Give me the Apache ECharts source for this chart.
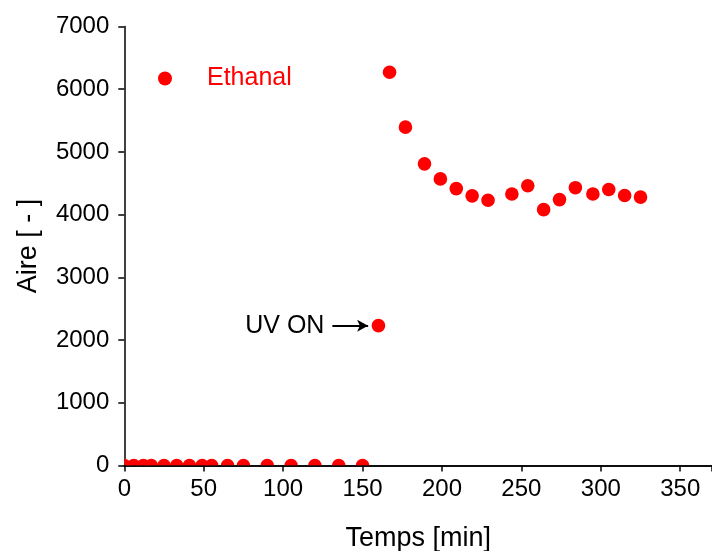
<!DOCTYPE html>
<html>
<head>
<meta charset="utf-8">
<script src="https://cdn.jsdelivr.net/npm/echarts@6/dist/echarts.min.js"></script>
<style>
html,body{margin:0;padding:0;background:#fff;}
#chart{width:712px;height:551px;}
</style>
</head>
<body>
<div id="chart"></div>
<script>
// Data
const seriesName = 'Ethanal';
const timeMin = [0, 6, 12, 17, 25, 33, 41, 49, 55, 65, 75, 90, 105, 120, 135, 150,
                 160, 167, 177, 189, 199, 209, 219, 229, 244, 254, 264, 274, 284, 295, 305, 315, 325];
const aire = [0, 0, 0, 0, 0, 0, 0, 0, 0, 0, 0, 0, 0, 0, 0, 0,
              2230, 6270, 5395, 4810, 4570, 4415, 4300, 4230, 4330, 4460, 4080, 4240, 4430, 4330, 4400, 4305, 4280];
const xTicks = [0, 50, 100, 150, 200, 250, 300, 350];
const yTicks = [0, 1000, 2000, 3000, 4000, 5000, 6000, 7000];
const annotationText = 'UV ON';
const arrowFrom = [131, 2230];
const arrowTo = [153.5, 2230];

const FONT = 'Liberation Sans, Arial, sans-serif';
const RED = '#ff0000';
const chart = echarts.init(document.getElementById('chart'), null, {renderer: 'canvas'});

const points = timeMin.map((t, i) => [t, aire[i]]);

chart.setOption({
  backgroundColor: '#ffffff',
  animation: false,
  grid: {left: 124.3, right: 0, top: 26.5, bottom: 85.5, containLabel: false, outerBoundsMode: 'none'},
  legend: {
    left: 153, top: 61,
    data: [{name: seriesName, icon: 'circle', itemStyle: {color: RED}}],
    itemWidth: 14, itemHeight: 14,
    textStyle: {color: RED, fontSize: 25, fontFamily: FONT, padding: [0, 0, 0, 30]}
  },
  xAxis: [{
    type: 'value', min: 0, max: 370, interval: 50,
    axisLine: {show: true, onZero: false, lineStyle: {color: '#000', width: 1.5}},
    axisTick: {show: true, inside: false, length: 6, lineStyle: {color: '#000', width: 1.5}},
    axisLabel: {color: '#000', fontSize: 24, fontFamily: FONT, margin: 12,
      formatter: v => (xTicks.indexOf(v) >= 0 ? String(v) : '')},
    splitLine: {show: false},
    name: 'Temps [min]', nameLocation: 'middle', nameGap: 60,
    nameTextStyle: {color: '#000', fontSize: 27, fontFamily: FONT}
  }, {
    type: 'value', position: 'top', min: 0, max: 370,
    axisLine: {show: true, lineStyle: {color: '#000', width: 1.5}},
    axisTick: {show: false}, axisLabel: {show: false}, splitLine: {show: false}
  }],
  yAxis: {
    type: 'value', min: 0, max: 7000, interval: 1000,
    axisLine: {show: true, onZero: false, lineStyle: {color: '#000', width: 1.5}},
    axisTick: {show: true, inside: false, length: 6, lineStyle: {color: '#000', width: 1.5}},
    axisLabel: {color: '#000', fontSize: 24, fontFamily: FONT, margin: 15,
      formatter: v => (yTicks.indexOf(v) >= 0 ? String(v) : '')},
    splitLine: {show: false},
    name: 'Aire [ - ]', nameLocation: 'middle', nameGap: 82,
    nameTextStyle: {color: '#000', fontSize: 27, fontFamily: FONT}
  },
  series: [{
    name: seriesName,
    type: 'custom',
    clip: true,
    itemStyle: {color: RED},
    data: points,
    encode: {x: 0, y: 1},
    renderItem: function (params, api) {
      const p = api.coord([api.value(0), api.value(1)]);
      const cs = params.coordSys;
      return {
        type: 'group',
        clipPath: {type: 'rect', shape: {x: cs.x, y: cs.y, width: cs.width, height: cs.height}},
        children: [{type: 'circle', shape: {cx: p[0], cy: p[1], r: 6.8}, style: {fill: RED}}]
      };
    },
    z: 1
  }, {
    name: 'annot',
    type: 'line',
    data: [],
    silent: true,
    markLine: {
      silent: true,
      symbol: ['none', 'arrow'],
      symbolSize: [9, 11],
      lineStyle: {color: '#000', width: 2, type: 'solid'},
      label: {show: true, position: 'start', formatter: annotationText, color: '#000',
        fontSize: 25, fontFamily: FONT, distance: 8},
      data: [[{coord: arrowFrom}, {coord: arrowTo}]]
    }
  }]
});
</script>
</body>
</html>
